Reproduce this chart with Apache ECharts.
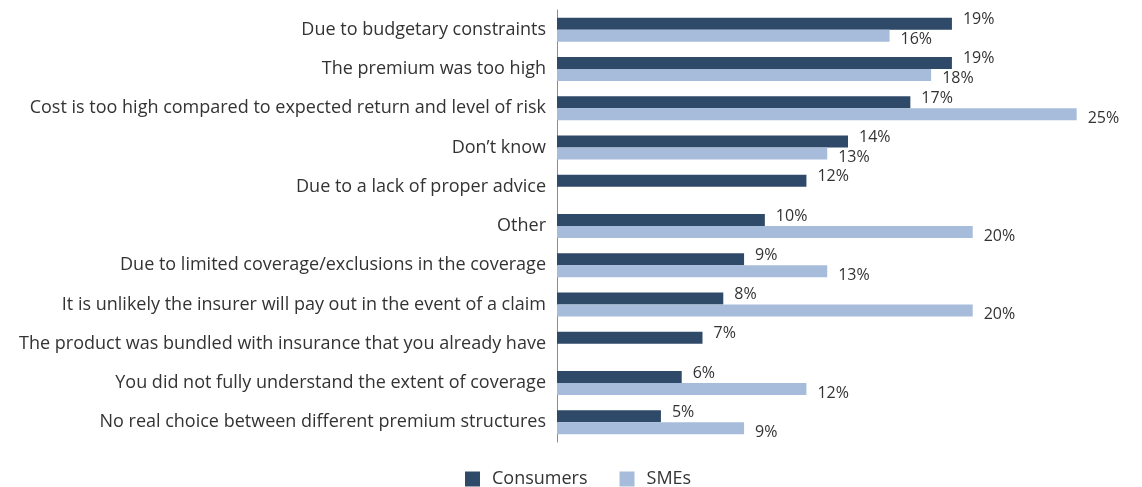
<!DOCTYPE html>
<html>
<head>
<meta charset="utf-8">
<title>Reasons</title>
<style>
html,body{margin:0;padding:0;background:#fff}
#main{width:1142px;height:487px}
</style>
<script src="https://cdn.jsdelivr.net/npm/echarts@6/dist/echarts.min.js"></script>
</head>
<body>
<div id="main"></div>
<script>
var categories = [
	'Due to budgetary constraints',
	'The premium was too high',
	'Cost is too high compared to expected return and level of risk',
	'Don\u2019t know',
	'Due to a lack of proper advice',
	'Other',
	'Due to limited coverage/exclusions in the coverage',
	'It is unlikely the insurer will pay out in the event of a claim',
	'The product was bundled with insurance that you already have',
	'You did not fully understand the extent of coverage',
	'No real choice between different premium structures'
];
var consumers = [19, 19, 17, 14, 12, 10, 9, 8, 7, 6, 5];
var smes = [16, 18, 25, 13, '-', 20, 13, 20, '-', 12, 9];

var FONT = '"Open Sans", "DejaVu Sans", sans-serif';

var chart = echarts.init(document.getElementById('main'));
var option = {
	animation: false,
	textStyle: { fontFamily: FONT },
	grid: {
		left: 557,
		right: 3,
		top: 10,
		bottom: 45
	},
	legend: {
		left: 460,
		top: 465,
		itemWidth: 15,
		itemHeight: 15,
		itemGap: 32,
		icon: 'rect',
		textStyle: { color: '#333', fontSize: 18, fontFamily: FONT, padding: [0, 0, 0, 7] },
		data: ['Consumers', 'SMEs']
	},
	xAxis: {
		type: 'value',
		min: 0,
		max: 28,
		show: false
	},
	yAxis: {
		type: 'category',
		inverse: true,
		data: categories,
		axisLine: { show: true, lineStyle: { color: '#8c8c8c', width: 1 } },
		axisTick: { show: false },
		axisLabel: { color: '#333', fontSize: 18, margin: 11, fontFamily: FONT }
	},
	series: [{
		name: 'Consumers',
		type: 'bar',
		data: consumers,
		barWidth: 12,
		barGap: '0%',
		itemStyle: { color: '#2e4a68' },
		label: {
			show: true,
			position: 'right',
			distance: 11,
			offset: [0, -4],
			color: '#333',
			fontSize: 16,
			formatter: '{c}%'
		}
	}, {
		name: 'SMEs',
		type: 'bar',
		data: smes,
		barWidth: 12,
		itemStyle: { color: '#a7bcdb' },
		label: {
			show: true,
			position: 'right',
			distance: 11,
			offset: [0, 4],
			color: '#333',
			fontSize: 16,
			formatter: '{c}%'
		}
	}]
};
chart.setOption(option);
</script>
</body>
</html>
